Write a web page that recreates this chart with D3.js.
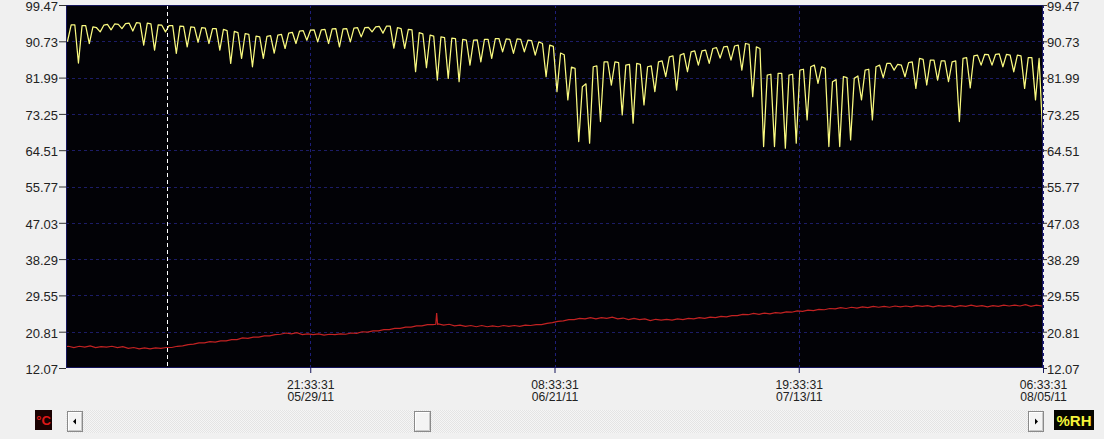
<!DOCTYPE html>
<html>
<head>
<meta charset="utf-8">
<script src="https://cdn.jsdelivr.net/npm/d3@7"></script>
<style>
  body { margin: 0; background: #f0f0f0; overflow: hidden; }
  svg { display: block; font-family: "Liberation Sans", Arial, sans-serif; }
</style>
</head>
<body>
<svg id="chart" width="1104" height="439"></svg>
<script>
// ---- axis setup ----
const yTickLabels = ["12.07", "20.81", "29.55", "38.29", "47.03", "55.77", "64.51", "73.25", "81.99", "90.73", "99.47"];
const timeStart = "2011-05-07 10:33:31";
const timeEnd = "2011-08-05 06:33:31";
const xTickTimes = ["2011-05-29 21:33:31", "2011-06-21 08:33:31", "2011-07-13 19:33:31", "2011-08-05 06:33:31"];
const cursorTime = "2011-05-16 17:40:00";

// ---- relative humidity (%RH), one reading every 8 hours from 06:00 ----
const rhStart = "2011-05-07 06:00:00";
const rhStepHours = 8;
const rhValues = [
  90.2, 90.8, 94.7,  94.7, 85.5, 94.5,  94.5, 90.2, 94.2,  94.0, 93.0, 94.6,  94.8, 93.5, 94.9,
  94.8, 93.8, 95.0,  95.1, 93.2, 95.2,  95.1, 89.8, 95.1,  94.9, 88.6, 94.7,  94.6, 93.0, 94.5,
  94.5, 87.8, 94.4,  94.3, 89.4, 94.2,  94.1, 90.5, 94.0,  93.9, 90.2, 93.8,  93.8, 88.6, 93.6,
  93.3, 85.4, 93.1,  92.8, 86.6, 92.6,  92.4, 84.6, 92.0,  91.8, 86.6, 91.9,  92.1, 87.9, 92.2,
  92.4, 89.0, 92.7,  92.9, 90.2, 93.2,  93.3, 91.0, 93.4,  93.5, 90.6, 93.5,  93.6, 90.2, 93.7,
  93.8, 89.4, 93.7,  93.8, 90.6, 93.9,  94.0, 91.8, 94.0,  94.1, 93.0, 94.2,  94.3, 92.7, 94.4,
  94.4, 89.1, 94.0,  93.8, 89.0, 93.6,  93.5, 83.4, 92.8,  92.5, 84.4, 92.2,  92.0, 81.4, 91.8,
  91.6, 81.8, 91.5,  91.4, 81.0, 91.2,  91.0, 85.0, 91.0,  91.1, 85.8, 91.2,  91.2, 86.6, 91.4,
  91.4, 88.2, 91.3,  91.2, 87.8, 91.3,  91.2, 88.2, 91.0,  90.9, 87.4, 90.6,  90.2, 82.2, 89.8,
  89.5, 78.6, 87.9,  87.5, 76.6, 84.5,  84.2, 66.6, 79.8,  80.5, 66.2, 84.6,  84.8, 71.4, 85.8,
  85.8, 80.2, 85.8,  85.6, 73.0, 85.0,  85.2, 71.0, 85.4,  85.2, 75.4, 84.6,  84.8, 78.6, 85.8,
  86.0, 82.2, 87.0,  87.2, 79.0, 87.4,  87.8, 83.4, 88.2,  88.4, 85.0, 88.4,  88.6, 85.4, 89.0,
  89.2, 86.7, 89.4,  89.5, 86.2, 89.6,  89.8, 83.8, 90.2,  90.0, 77.4, 89.4,  89.0, 65.4, 82.6,
  82.8, 65.4, 83.0,  83.0, 65.0, 82.6,  82.8, 66.2, 83.8,  84.0, 71.8, 84.6,  85.0, 80.6, 84.6,
  84.2, 65.4, 81.0,  81.5, 65.4, 82.2,  82.0, 67.0, 81.8,  82.4, 76.6, 83.8,  84.0, 71.8, 84.6,
  85.0, 82.0, 85.4,  85.4, 83.8, 85.2,  85.0, 82.2, 85.6,  85.8, 79.4, 86.6,  86.4, 80.2, 86.2,
  86.2, 81.4, 86.0,  86.0, 81.0, 85.8,  86.0, 71.4, 86.6,  86.8, 79.5, 87.2,  87.4, 85.0, 87.6,
  87.5, 85.0, 87.6,  87.7, 84.6, 87.6,  87.4, 83.4, 87.4,  87.2, 79.4, 86.8,  86.8, 76.6, 86.6,
  68.0
];

// ---- temperature (°C), one reading every 12 hours from 04:00 ----
const tempStart = "2011-05-07 04:00:00";
const tempStepHours = 12;
const tempValues = [
  17.1, 17.3,  17.0, 17.3,  17.1, 17.4,  17.0, 17.2,  17.1, 17.3,  17.0, 17.2,  16.8, 17.0,  16.7, 16.9,
  16.7, 16.9,  16.8, 17.0,  17.0, 17.3,  17.4, 17.7,  17.8, 18.1,  18.1, 18.4,  18.3, 18.6,  18.6, 18.9,
  18.9, 19.3,  19.2, 19.5,  19.5, 19.8,  19.8, 20.1,  20.2, 20.5,  20.3, 20.6,  20.1, 20.3,  20.1, 20.3,
  20.0, 20.2,  20.1, 20.3,  20.2, 20.5,  20.4, 20.8,  20.7, 21.0,  21.0, 21.3,  21.3, 21.6,  21.6, 21.9,
  21.9, 22.2,  22.2, 22.5,  22.5, 22.7,  22.4, 22.6,  22.2, 22.4,  22.1, 22.3,  22.0, 22.3,  22.0, 22.2,
  22.0, 22.3,  22.1, 22.3,  22.1, 22.4,  22.3, 22.5,  22.5, 22.8,  23.0, 23.3,  23.4, 23.7,  23.7, 24.0,
  23.9, 24.2,  23.9, 24.2,  24.0, 24.3,  23.9, 24.1,  23.7, 24.0,  23.7, 23.9,  23.5, 23.8,  23.6, 23.8,
  23.6, 23.9,  23.7, 24.0,  23.9, 24.2,  24.0, 24.3,  24.2, 24.5,  24.4, 24.7,  24.7, 25.0,  24.9, 25.2,
  25.0, 25.3,  25.1, 25.4,  25.3, 25.6,  25.5, 25.8,  25.7, 26.0,  25.9, 26.2,  26.1, 26.4,  26.3, 26.6,
  26.4, 26.7,  26.5, 26.8,  26.6, 26.9,  26.7, 26.9,  26.7, 27.0,  26.8, 27.0,  26.8, 27.1,  26.9, 27.1,
  26.8, 27.1,  26.9, 27.1,  26.8, 27.1,  26.9, 27.2,  26.9, 27.1,  26.8, 27.1,  26.9, 27.2,  27.0, 27.2,
  27.0, 27.3,  26.9, 27.2,
  27.0
];
// short-lived temperature excursion logged between the regular readings
const tempEventTimes = ["2011-06-10 10:30:00", "2011-06-10 12:30:00", "2011-06-10 14:30:00"];
const tempEventValues = [22.6, 25.3, 22.6];

// ---- layout ----
const plot = { left: 66, right: 1043, top: 5, bottom: 368 };

const parse = d3.utcParse("%Y-%m-%d %H:%M:%S");
const svg = d3.select("#chart");

const x = d3.scaleUtc()
  .domain([parse(timeStart), parse(timeEnd)])
  .range([plot.left, plot.right]);

const yTicks = yTickLabels.map(Number);
const y = d3.scaleLinear()
  .domain([yTicks[0], yTicks[yTicks.length - 1]])
  .range([plot.bottom, plot.top]);

function series(start, stepHours, values) {
  const t0 = parse(start).getTime();
  return values.map((v, i) => ({ t: new Date(t0 + i * stepHours * 3600e3), v }));
}
const rhData = series(rhStart, rhStepHours, rhValues);
const tempData = series(tempStart, tempStepHours, tempValues)
  .concat(tempEventTimes.map((s, i) => ({ t: parse(s), v: tempEventValues[i] })))
  .sort((a, b) => a.t - b.t);

const defs = svg.append("defs");

// plot background
svg.append("rect")
  .attr("x", plot.left).attr("y", plot.top)
  .attr("width", plot.right - plot.left).attr("height", plot.bottom - plot.top)
  .attr("fill", "#020206");

defs.append("clipPath").attr("id", "plotClip")
  .append("rect")
  .attr("x", plot.left).attr("y", plot.top)
  .attr("width", plot.right - plot.left).attr("height", plot.bottom - plot.top);

// horizontal grid
svg.append("g")
  .selectAll("line")
  .data(yTicks.slice(1, -1))
  .join("line")
  .attr("x1", plot.left).attr("x2", plot.right)
  .attr("y1", d => Math.round(y(d)) + 0.5).attr("y2", d => Math.round(y(d)) + 0.5)
  .attr("stroke", "#1c1c66")
  .attr("stroke-dasharray", "3,3");

// vertical grid
const xTicks = xTickTimes.map(parse);
svg.append("g")
  .selectAll("line")
  .data(xTicks)
  .join("line")
  .attr("x1", d => Math.round(x(d)) + 0.5).attr("x2", d => Math.round(x(d)) + 0.5)
  .attr("y1", plot.top).attr("y2", plot.bottom)
  .attr("stroke", "#1e1e78")
  .attr("stroke-dasharray", "3,3");

const gLines = svg.append("g").attr("clip-path", "url(#plotClip)");
const line = d3.line().x(d => x(d.t)).y(d => y(d.v));

gLines.append("path")
  .datum(tempData)
  .attr("fill", "none")
  .attr("stroke", "#c22222")
  .attr("stroke-width", 1.2)
  .attr("d", line);

gLines.append("path")
  .datum(rhData)
  .attr("fill", "none")
  .attr("stroke", "#fafa80")
  .attr("stroke-width", 1.25)
  .attr("stroke-linejoin", "round")
  .attr("d", line);

// cursor line
const cx = Math.round(x(parse(cursorTime))) + 0.5;
svg.append("line")
  .attr("x1", cx).attr("x2", cx)
  .attr("y1", plot.top).attr("y2", plot.bottom)
  .attr("stroke", "#ffffff")
  .attr("stroke-dasharray", "4,3");

// plot frame
svg.append("rect")
  .attr("x", plot.left + 0.5).attr("y", plot.top + 0.5)
  .attr("width", plot.right - plot.left - 1).attr("height", plot.bottom - plot.top - 1)
  .attr("fill", "none")
  .attr("stroke", "#14145a");

// axes
const fmt = d3.format(".2f");
function styleAxis(g) {
  g.select(".domain").remove();
  g.selectAll(".tick line").attr("stroke", "#333");
  g.selectAll(".tick text").attr("fill", "#222").attr("font-size", 13)
    .attr("y", 1.2).attr("dy", "0.32em")
    .attr("font-family", "'Liberation Sans', Arial, sans-serif");
}

svg.append("g")
  .attr("transform", `translate(${plot.left},0)`)
  .call(d3.axisLeft(y).tickValues(yTicks).tickFormat(fmt).tickSize(7).tickPadding(1))
  .call(styleAxis);

svg.append("g")
  .attr("transform", `translate(${plot.right},0)`)
  .call(d3.axisRight(y).tickValues(yTicks).tickFormat(fmt).tickSize(4).tickPadding(0))
  .call(styleAxis);

const xAxis = svg.append("g")
  .attr("transform", `translate(0,${plot.bottom})`)
  .call(d3.axisBottom(x).tickValues(xTicks).tickSize(5).tickFormat(""));
xAxis.select(".domain").remove();
xAxis.selectAll(".tick line").attr("stroke", "#14145a");
const fTime = d3.utcFormat("%H:%M:%S"), fDate = d3.utcFormat("%m/%d/%y");
xAxis.selectAll(".tick").each(function (d) {
  const t = d3.select(this).append("text")
    .attr("fill", "#222").attr("font-size", 12.2).attr("text-anchor", "middle");
  t.append("tspan").attr("x", 0).attr("y", 21).text(fTime(d));
  t.append("tspan").attr("x", 0).attr("y", 33).text(fDate(d));
});

// ---- scroll bar ----
const pat = defs.append("pattern").attr("id", "hatch")
  .attr("width", 2).attr("height", 2).attr("patternUnits", "userSpaceOnUse");
pat.append("rect").attr("width", 2).attr("height", 2).attr("fill", "#f5f5f5");
pat.append("rect").attr("width", 1).attr("height", 1).attr("fill", "#e4e4e4");
pat.append("rect").attr("x", 1).attr("y", 1).attr("width", 1).attr("height", 1).attr("fill", "#e4e4e4");

const sb = { x0: 66, x1: 1044, y0: 410, y1: 433 };
svg.append("rect")
  .attr("x", sb.x0).attr("y", sb.y0).attr("width", sb.x1 - sb.x0).attr("height", sb.y1 - sb.y0)
  .attr("fill", "url(#hatch)");

function button(bx, by, w, h) {
  const g = svg.append("g");
  g.append("rect").attr("x", bx + 0.5).attr("y", by + 0.5).attr("width", w - 1).attr("height", h - 1)
    .attr("fill", "#f4f4f4").attr("stroke", "#8a8a8a");
  g.append("path").attr("d", `M${bx + 1.5},${by + h - 1.5}V${by + 1.5}H${bx + w - 1.5}`)
    .attr("fill", "none").attr("stroke", "#ffffff");
  g.append("path").attr("d", `M${bx + 1.5},${by + h - 1.5}H${bx + w - 1.5}V${by + 1.5}`)
    .attr("fill", "none").attr("stroke", "#c8c8c8");
  return g;
}
const lb = button(67, 411, 16, 21);
lb.append("path").attr("d", "M73,421.5 l3,-3 v6 z").attr("fill", "#000");
const rb = button(1028, 411, 16, 21);
rb.append("path").attr("d", "M1038,421.5 l-3,-3 v6 z").attr("fill", "#000");
button(414, 411, 17, 21);

// unit badges
svg.append("rect").attr("x", 35).attr("y", 410).attr("width", 17).attr("height", 20).attr("fill", "#1a0202");
svg.append("text").attr("x", 43.5).attr("y", 425).attr("text-anchor", "middle")
  .attr("fill", "#e01818").attr("font-size", 13).attr("font-weight", "bold").text("°C");

svg.append("rect").attr("x", 1054).attr("y", 410).attr("width", 40).attr("height", 20).attr("fill", "#050500");
svg.append("text").attr("x", 1074).attr("y", 425.5).attr("text-anchor", "middle")
  .attr("fill", "#f4f43a").attr("font-size", 15).attr("font-weight", "bold").text("%RH");
</script>
</body>
</html>
